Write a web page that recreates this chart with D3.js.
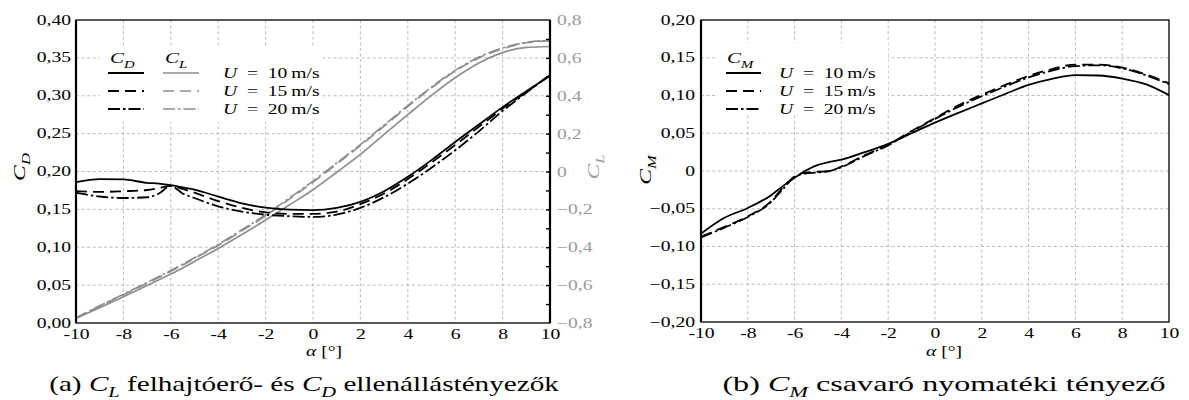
<!DOCTYPE html>
<html><head><meta charset="utf-8">
<script src="https://cdn.jsdelivr.net/npm/d3@7"></script>
<style>body{margin:0;background:#fff}svg{display:block}</style>
</head><body>
<svg id="chart" width="1189" height="400"></svg>
<script>
// ---------- data ----------
const alphaA = [-10,-9,-8,-7,-6.5,-6,-5.5,-5,-4,-3,-2,-1,0,1,2,3,4,5,6,7,8,9,10];
const cd10 = [0.186,0.190,0.1895,0.185,0.184,0.182,0.179,0.176,0.1668,0.158,0.1522,0.1496,0.149,0.152,0.160,0.174,0.193,0.215,0.239,0.262,0.285,0.306,0.326];
const cd15 = [0.174,0.173,0.174,0.1756,0.178,0.181,0.177,0.172,0.161,0.152,0.146,0.144,0.144,0.147,0.157,0.171,0.190,0.212,0.235,0.259,0.283,0.305,0.327];
const cd20 = [0.172,0.167,0.165,0.166,0.171,0.181,0.171,0.165,0.154,0.147,0.143,0.141,0.140,0.143,0.152,0.166,0.184,0.205,0.228,0.253,0.280,0.304,0.328];
const cl10 = [-0.775,-0.719,-0.661,-0.602,-0.572,-0.541,-0.509,-0.475,-0.406,-0.333,-0.256,-0.177,-0.096,-0.004,0.090,0.196,0.300,0.402,0.495,0.573,0.628,0.655,0.660];
const cl15 = [-0.775,-0.712,-0.651,-0.590,-0.558,-0.527,-0.494,-0.459,-0.390,-0.313,-0.234,-0.146,-0.056,0.040,0.137,0.240,0.343,0.442,0.530,0.600,0.648,0.680,0.690];
const cl20 = [-0.773,-0.709,-0.648,-0.586,-0.554,-0.523,-0.490,-0.456,-0.385,-0.308,-0.228,-0.140,-0.051,0.045,0.142,0.245,0.348,0.446,0.534,0.604,0.652,0.682,0.692];

const alphaM = [-10,-9,-8,-7,-6.5,-6,-5.5,-5,-4.5,-4,-3,-2,-1,0,1,2,3,4,5,6,7,8,9,10];
const cm10 = [-0.083,-0.062,-0.049,-0.032,-0.020,-0.009,0.001,0.008,0.012,0.015,0.025,0.036,0.050,0.064,0.077,0.0895,0.102,0.114,0.122,0.127,0.1265,0.1225,0.115,0.1005];
const cm15 = [-0.087,-0.074,-0.060,-0.040,-0.022,-0.007,-0.002,-0.001,0.000,0.006,0.021,0.035,0.053,0.070,0.087,0.101,0.114,0.126,0.135,0.141,0.141,0.137,0.128,0.116];
const cm20 = [-0.088,-0.075,-0.061,-0.041,-0.024,-0.008,-0.003,-0.002,0.000,0.005,0.020,0.034,0.052,0.069,0.085,0.099,0.112,0.124,0.133,0.139,0.140,0.136,0.127,0.115];

const xTicks = [-10,-8,-6,-4,-2,0,2,4,6,8,10];
const xTickLabels = ["-10","-8","-6","-4","-2","0","2","4","6","8","10"];
const cdTicks = [0,0.05,0.10,0.15,0.20,0.25,0.30,0.35,0.40];
const cdTickLabels = ["0,00","0,05","0,10","0,15","0,20","0,25","0,30","0,35","0,40"];
const clTicks = [-0.8,-0.6,-0.4,-0.2,0,0.2,0.4,0.6,0.8];
const clTickLabels = ["\u22120,8","\u22120,6","\u22120,4","\u22120,2","0","0,2","0,4","0,6","0,8"];
const clMinorTicks = [-0.7,-0.6,-0.5,-0.4,-0.3,-0.2,-0.1,0,0.1,0.2,0.3,0.4,0.5,0.6,0.7];
const cmTicks = [-0.20,-0.15,-0.10,-0.05,0,0.05,0.10,0.15,0.20];
const cmTickLabels = ["\u22120,20","\u22120,15","\u22120,10","\u22120,05","0","0,05","0,10","0,15","0,20"];
const speeds = ["10","15","20"];

// ---------- styles ----------
const FONT = "'Liberation Serif','DejaVu Serif',serif";
const SX = 1.4;
const GRAY = "#8e8e8e";
const LABELGRAY = "#9a9a9a";
const DASHES = [null, "11,6", "12,3,2.5,3"];
const svg = d3.select("#chart");

function addText(g, x, y, parts, o = {}) {
  const size = o.size || 14, sx = o.sx || SX;
  const t = g.append("text")
    .attr("transform", `translate(${x},${y})` + (o.rotate ? ` rotate(${o.rotate})` : "") + ` scale(${sx},1)`)
    .attr("font-family", FONT).attr("font-size", size)
    .attr("text-anchor", o.anchor || "start")
    .attr("fill", o.fill || "#000")
    .attr("xml:space", "preserve");
  let cur = 0;
  parts.forEach(p => {
    const [s, kind] = Array.isArray(p) ? p : [p, "r"];
    const ts = t.append("tspan").text(s);
    const want = kind === "sub" ? size * 0.3 : 0;
    if (want !== cur) { ts.attr("dy", want - cur); cur = want; }
    if (kind === "i" || kind === "sub") ts.attr("font-style", "italic");
    if (kind === "sub") ts.attr("font-size", size * 0.7);
  });
  return t;
}

function styleTicks(axisG, dx, dy, anchor, fill) {
  axisG.select(".domain").remove();
  axisG.selectAll(".tick text")
    .attr("x", null).attr("y", null).attr("dy", null)
    .attr("font-family", FONT).attr("font-size", 14)
    .attr("text-anchor", anchor).attr("fill", fill)
    .attr("transform", `translate(${dx},${dy}) scale(${SX},1)`);
}

function drawGrid(g, xs, ys, xVals, yVals, P) {
  const grid = g.append("g").attr("stroke", "#b4b4b4").attr("stroke-width", 0.9).attr("stroke-dasharray", "3,2.6");
  grid.selectAll("line.v").data(xVals).join("line")
    .attr("x1", d => xs(d)).attr("x2", d => xs(d)).attr("y1", P.y0).attr("y2", P.y1);
  grid.selectAll("line.h").data(yVals).join("line")
    .attr("y1", d => ys(d)).attr("y2", d => ys(d)).attr("x1", P.x0).attr("x2", P.x1);
}

function drawSeries(g, xs, ys, xsArr, vals, color, width, dash) {
  const line = d3.line().x((d, i) => xs(xsArr[i])).y(d => ys(d)).curve(d3.curveMonotoneX);
  g.append("path").datum(vals).attr("d", line)
    .attr("fill", "none").attr("stroke", color).attr("stroke-width", width)
    .attr("stroke-dasharray", dash).attr("stroke-linejoin", "round");
}

const EQ = "\u2002=\u2002";

// ---------- left chart ----------
const L = {x0: 76, x1: 550, y0: 20, y1: 323};
const xL = d3.scaleLinear().domain([-10, 10]).range([L.x0, L.x1]);
const yCD = d3.scaleLinear().domain([0, 0.4]).range([L.y1, L.y0]);
const yCL = d3.scaleLinear().domain([-0.8, 0.8]).range([L.y1, L.y0]);
const gL = svg.append("g");

drawGrid(gL, xL, yCD, xTicks.slice(1, -1), cdTicks.slice(1, -1), L);

// legend background
gL.append("rect").attr("x", 100).attr("y", 47).attr("width", 223).attr("height", 75).attr("fill", "#fff");

[cl10, cl15, cl20].forEach((v, i) => drawSeries(gL, xL, yCL, alphaA, v, GRAY, 1.7, DASHES[i]));
[cd10, cd15, cd20].forEach((v, i) => drawSeries(gL, xL, yCD, alphaA, v, "#000", 1.8, DASHES[i]));

// frame
gL.append("rect").attr("x", L.x0).attr("y", L.y0).attr("width", L.x1 - L.x0).attr("height", L.y1 - L.y0)
  .attr("fill", "none").attr("stroke", "#000").attr("stroke-width", 1.3);
gL.append("line").attr("x1", L.x0).attr("x2", L.x0).attr("y1", L.y0).attr("y2", L.y1).attr("stroke", "#000").attr("stroke-width", 2.2);
gL.append("line").attr("x1", L.x1).attr("x2", L.x1).attr("y1", L.y0).attr("y2", L.y1).attr("stroke", "#000").attr("stroke-width", 2.2);

// axes
const axLB = gL.append("g").attr("transform", `translate(0,${L.y1})`)
  .call(d3.axisBottom(xL).tickValues(xTicks).tickFormat((d, i) => xTickLabels[i]).tickSize(0));
styleTicks(axLB, 0, 15.5, "middle", "#000");
const axLL = gL.append("g").attr("transform", `translate(${L.x0},0)`)
  .call(d3.axisLeft(yCD).tickValues(cdTicks).tickFormat((d, i) => cdTickLabels[i]).tickSize(0));
styleTicks(axLL, -5, 4, "end", "#000");
const axLR = gL.append("g").attr("transform", `translate(${L.x1},0)`)
  .call(d3.axisRight(yCL).tickValues(clTicks).tickFormat((d, i) => clTickLabels[i]).tickSize(0));
styleTicks(axLR, 7, 4.5, "start", LABELGRAY);
const axLRm = gL.append("g").attr("transform", `translate(${L.x1},0)`)
  .call(d3.axisRight(yCL).tickValues(clMinorTicks).tickFormat("").tickSize(-4));
axLRm.select(".domain").remove();
axLRm.selectAll(".tick line").attr("stroke", "#000").attr("stroke-width", 1.4);

// legend
addText(gL, 110, 63, [["C", "i"], ["D", "sub"]], {size: 15});
addText(gL, 165, 63, [["C", "i"], ["L", "sub"]], {size: 15});
speeds.forEach((s, i) => {
  const yy = 73 + i * 18;
  gL.append("line").attr("x1", 108).attr("x2", 144).attr("y1", yy).attr("y2", yy)
    .attr("stroke", "#000").attr("stroke-width", 1.8).attr("stroke-dasharray", DASHES[i]);
  gL.append("line").attr("x1", 163).attr("x2", 199).attr("y1", yy).attr("y2", yy)
    .attr("stroke", GRAY).attr("stroke-width", 1.7).attr("stroke-dasharray", DASHES[i]);
  addText(gL, 223, yy + 4.5, [["U", "i"], EQ + s + "\u2009m/s"]);
});

// axis titles
addText(gL, 324, 356, [["α", "i"], " [°]"], {anchor: "middle"});
addText(gL, 25, 167, [["C", "i"], ["D", "sub"]], {anchor: "middle", rotate: -90, size: 17});
addText(gL, 599, 167, [["C", "i"], ["L", "sub"]], {anchor: "middle", rotate: -90, size: 17, fill: LABELGRAY});

// caption
addText(gL, 304, 391, ["(a) ", ["C", "i"], ["L", "sub"], " felhajtóerő- és ", ["C", "i"], ["D", "sub"], " ellenállástényezők"], {anchor: "middle", size: 21, sx: 1.39});

// ---------- right chart ----------
const R = {x0: 701, x1: 1169, y0: 20, y1: 322};
const xR = d3.scaleLinear().domain([-10, 10]).range([R.x0, R.x1]);
const yCM = d3.scaleLinear().domain([-0.2, 0.2]).range([R.y1, R.y0]);
const gR = svg.append("g");

drawGrid(gR, xR, yCM, xTicks.slice(1, -1), cmTicks.slice(1, -1), R);
gR.append("rect").attr("x", 718).attr("y", 43).attr("width", 170).attr("height", 72).attr("fill", "#fff");

[cm10, cm15, cm20].forEach((v, i) => drawSeries(gR, xR, yCM, alphaM, v, "#000", 1.8, DASHES[i]));

gR.append("rect").attr("x", R.x0).attr("y", R.y0).attr("width", R.x1 - R.x0).attr("height", R.y1 - R.y0)
  .attr("fill", "none").attr("stroke", "#000").attr("stroke-width", 1.3);
gR.append("line").attr("x1", R.x0).attr("x2", R.x0).attr("y1", R.y0).attr("y2", R.y1).attr("stroke", "#000").attr("stroke-width", 2.2);

const axRB = gR.append("g").attr("transform", `translate(0,${R.y1})`)
  .call(d3.axisBottom(xR).tickValues(xTicks).tickFormat((d, i) => xTickLabels[i]).tickSize(0));
styleTicks(axRB, 0, 15.5, "middle", "#000");
const axRL = gR.append("g").attr("transform", `translate(${R.x0},0)`)
  .call(d3.axisLeft(yCM).tickValues(cmTicks).tickFormat((d, i) => cmTickLabels[i]).tickSize(0));
styleTicks(axRL, -6, 4, "end", "#000");

addText(gR, 727, 63, [["C", "i"], ["M", "sub"]], {size: 15});
speeds.forEach((s, i) => {
  const yy = 73 + i * 18;
  gR.append("line").attr("x1", 726).attr("x2", 761).attr("y1", yy).attr("y2", yy)
    .attr("stroke", "#000").attr("stroke-width", 1.8).attr("stroke-dasharray", DASHES[i]);
  addText(gR, 779, yy + 4.5, [["U", "i"], EQ + s + "\u2009m/s"]);
});

addText(gR, 944, 356, [["α", "i"], " [°]"], {anchor: "middle"});
addText(gR, 651, 170, [["C", "i"], ["M", "sub"]], {anchor: "middle", rotate: -90, size: 17});

addText(gR, 944, 391, ["(b) ", ["C", "i"], ["M", "sub"], " csavaró nyomatéki tényező"], {anchor: "middle", size: 21, sx: 1.53});
</script>
</body></html>
